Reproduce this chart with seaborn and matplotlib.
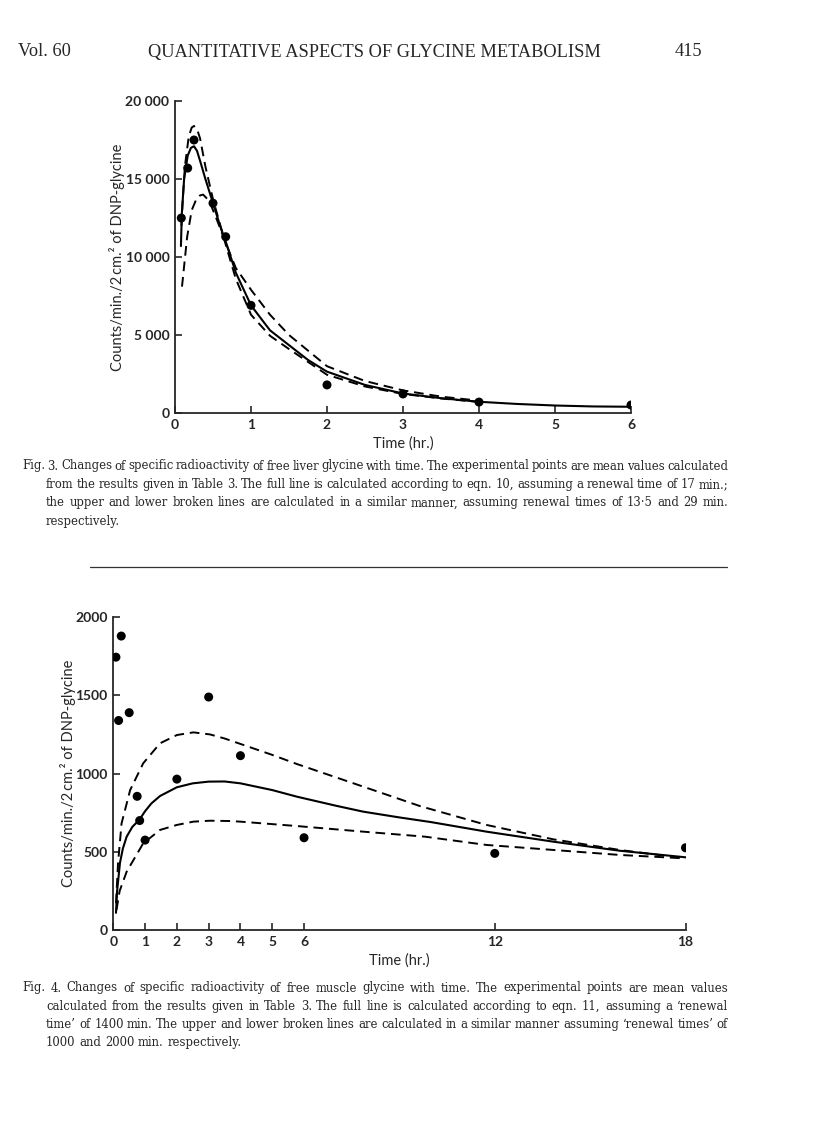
import matplotlib
matplotlib.use('Agg')
import matplotlib.pyplot as plt
import seaborn as sns

# Fig. 3 - liver glycine (time in hr, counts/min./2 cm.2)
liver_time = [0.083, 0.167, 0.25, 0.5, 0.667, 1, 2, 3, 4, 6]
liver_counts = [12500, 15700, 17500, 13450, 11300, 6900, 1800, 1220, 700, 510]

# full line, renewal time 17 min
liver_full_t = [0.078, 0.09, 0.12, 0.167, 0.21, 0.25, 0.29, 0.34, 0.4, 0.5, 0.6, 0.667, 0.8, 1.0,
                1.25, 1.5, 1.75, 2.0, 2.5, 3.0, 3.5, 4.0, 4.5, 5.0, 5.5, 6.0]
liver_full_v = [10700, 12800, 15000, 16500, 17000, 17100, 16800, 16000, 15000, 13450, 11900, 11000, 9000, 6900,
                5300, 4350, 3400, 2650, 1800, 1250, 950, 720, 580, 480, 420, 400]
# broken line, renewal time 13.5 min
liver_fast_t = [0.085, 0.1, 0.13, 0.18, 0.22, 0.25, 0.29, 0.33, 0.4, 0.5, 0.667, 0.8, 1.0, 1.25,
                1.5, 2.0, 2.5, 3.0, 3.5, 4.0]
liver_fast_v = [12000, 13500, 15800, 17700, 18300, 18400, 18200, 17600, 15800, 13700, 10800, 8600, 6300, 4950,
                4100, 2450, 1700, 1220, 930, 710]
# broken line, renewal time 29 min
liver_slow_t = [0.092, 0.16, 0.22, 0.28, 0.33, 0.37, 0.45, 0.55, 0.667, 0.8, 1.0, 1.25, 1.5,
                1.75, 2.0, 2.5, 3.0, 3.5, 4.0]
liver_slow_v = [8100, 11300, 13000, 13700, 13950, 14000, 13600, 12400, 10900, 9300, 7900, 6300, 5000,
                4000, 3000, 2050, 1450, 1050, 790]

# Fig. 4 - muscle glycine
muscle_time = [0.083, 0.167, 0.25, 0.5, 0.75, 0.83, 1, 2, 3, 4, 6, 12, 18]
muscle_counts = [1745, 1340, 1880, 1390, 855, 700, 575, 965, 1490, 1115, 590, 490, 526]

# full line, 1400 min
muscle_full_t = [0.085, 0.12, 0.21, 0.3, 0.42, 0.6, 0.82, 1.0, 1.2, 1.47, 2.0, 2.5, 3.0, 3.5,
                 4.0, 5.0, 5.77, 7.0, 7.86, 9.0, 10.0, 11.74, 13.84, 15.93, 18.0]
muscle_full_v = [110, 250, 430, 520, 597, 660, 705, 760, 810, 857, 913, 938, 949, 950,
                 938, 895, 853, 795, 757, 720, 690, 629, 565, 507, 465]
# broken line, 1000 min
muscle_up_t = [0.085, 0.15, 0.26, 0.53, 0.94, 1.47, 2.0, 2.52, 3.04, 3.5, 4.0, 5.0, 5.77,
               7.86, 9.64, 11.74, 13.84, 15.93, 18.0]
muscle_up_v = [171, 430, 682, 895, 1066, 1194, 1247, 1264, 1251, 1225, 1190, 1120, 1062,
               917, 793, 672, 580, 512, 458]
# broken line, 2000 min
muscle_low_t = [0.1, 0.2, 0.42, 0.94, 1.47, 2.0, 2.52, 3.04, 3.67, 4.0, 5.77, 7.86,
                9.8, 11.74, 13.84, 15.93, 18.0]
muscle_low_v = [128, 250, 373, 554, 640, 672, 693, 699, 697, 693, 665, 629,
                597, 544, 512, 480, 458]

header_left = "Vol. 60"
header_title = "QUANTITATIVE ASPECTS OF GLYCINE METABOLISM"
header_page = "415"

caption3 = [
    "Fig. 3.  Changes of specific radioactivity of free liver glycine with time. The experimental points are mean values calculated",
    "from the results given in Table 3. The full line is calculated according to eqn. 10, assuming a renewal time of 17 min.;",
    "the upper and lower broken lines are calculated in a similar manner, assuming renewal times of 13\u00b75 and 29 min.",
    "respectively.",
]
caption4 = [
    "Fig. 4.  Changes of specific radioactivity of free muscle glycine with time. The experimental points are mean values",
    "calculated from the results given in Table 3. The full line is calculated according to eqn. 11, assuming a \u2018renewal",
    "time\u2019 of 1400 min. The upper and lower broken lines are calculated in a similar manner assuming \u2018renewal times\u2019 of",
    "1000 and 2000 min. respectively.",
]

sns.set_style('ticks')
plt.rcParams['font.family'] = ['Lato', 'DejaVu Sans']

W, H = 816, 1145
fig = plt.figure(figsize=(W / 100, H / 100), dpi=100)
serif = ['DejaVu Serif']
head_serif = ['Liberation Serif', 'DejaVu Serif']
dash = (0, (5, 3))
ylab = 'Counts/min./2\u2009cm.\u00b2 of DNP-glycine'


def style_axes(ax):
    sns.despine(ax=ax)
    for s in ['left', 'bottom']:
        ax.spines[s].set_linewidth(1.3)
    ax.tick_params(direction='in', length=5, width=1.2, labelsize=10, pad=4)
    for lab in ax.get_xticklabels() + ax.get_yticklabels():
        lab.set_fontweight('bold')


# ---- Fig. 3
ax1 = fig.add_axes([175 / W, 1 - 413 / H, 456 / W, 312 / H])
sns.lineplot(x=liver_full_t, y=liver_full_v, ax=ax1, color='black', lw=1.5, sort=False, estimator=None)
sns.lineplot(x=liver_fast_t, y=liver_fast_v, ax=ax1, color='black', lw=1.4, linestyle=dash, sort=False, estimator=None)
sns.lineplot(x=liver_slow_t, y=liver_slow_v, ax=ax1, color='black', lw=1.4, linestyle=dash, sort=False, estimator=None)
sns.scatterplot(x=liver_time, y=liver_counts, ax=ax1, color='black', s=42, edgecolor='none', zorder=5)
ax1.set_xlim(0, 6)
ax1.set_ylim(0, 20000)
ax1.set_xticks(range(0, 7))
ax1.set_yticks([0, 5000, 10000, 15000, 20000])
ax1.set_yticklabels(['0', '5 000', '10 000', '15 000', '20 000'])
ax1.set_xlabel('Time (hr.)', fontsize=10.5)
ax1.set_ylabel(ylab, fontsize=10.5)
ax1.yaxis.set_label_coords(-0.11, 0.5)
style_axes(ax1)

# ---- Fig. 4
ax2 = fig.add_axes([113.3 / W, 1 - 930 / H, 572.2 / W, 312.7 / H])
sns.lineplot(x=muscle_full_t, y=muscle_full_v, ax=ax2, color='black', lw=1.5, sort=False, estimator=None)
sns.lineplot(x=muscle_up_t, y=muscle_up_v, ax=ax2, color='black', lw=1.4, linestyle=dash, sort=False, estimator=None)
sns.lineplot(x=muscle_low_t, y=muscle_low_v, ax=ax2, color='black', lw=1.4, linestyle=dash, sort=False, estimator=None)
sns.scatterplot(x=muscle_time, y=muscle_counts, ax=ax2, color='black', s=42, edgecolor='none', zorder=5)
ax2.set_xlim(0, 18)
ax2.set_ylim(0, 2000)
ax2.set_xticks([0, 1, 2, 3, 4, 5, 6, 12, 18])
ax2.set_yticks([0, 500, 1000, 1500, 2000])
ax2.set_xlabel('Time (hr.)', fontsize=10.5)
ax2.set_ylabel(ylab, fontsize=10.5)
ax2.yaxis.set_label_coords(-0.065, 0.5)
style_axes(ax2)

# ---- page text
fig.text(18 / W, 1 - 52 / H, header_left, family=head_serif, fontsize=13.2, va='center')
fig.text(374 / W, 1 - 52 / H, header_title, family=head_serif, fontsize=13.2, va='center', ha='center')
fig.text(688 / W, 1 - 52 / H, header_page, family=head_serif, fontsize=13.2, va='center', ha='center')

renderer = fig.canvas.get_renderer()


def caption_line(text, y, x0, x1, justify=True, size=8.4):
    words = text.split()
    objs = [fig.text(x0 / W, 1 - y / H, w, family=serif, fontsize=size, va='center') for w in words]
    widths = [o.get_window_extent(renderer).width for o in objs]
    gap = size * 0.32 * 100 / 72
    if justify:
        gap = (x1 - x0 - sum(widths)) / (len(words) - 1)
    x = x0
    for o, w in zip(objs, widths):
        o.set_x(x / W)
        x += w + gap


for i, line in enumerate(caption3):
    caption_line(line, 466 + i * 18.4, 22 if i == 0 else 46, 728, justify=(i < 3))
for i, line in enumerate(caption4):
    caption_line(line, 988 + i * 18.2, 22 if i == 0 else 46, 728, justify=(i < 3))

fig.add_artist(plt.Line2D([90 / W, 727 / W], [1 - 567 / H, 1 - 567 / H], color='#333333', lw=0.9))

fig.savefig('out.png', dpi=100, facecolor='white')
